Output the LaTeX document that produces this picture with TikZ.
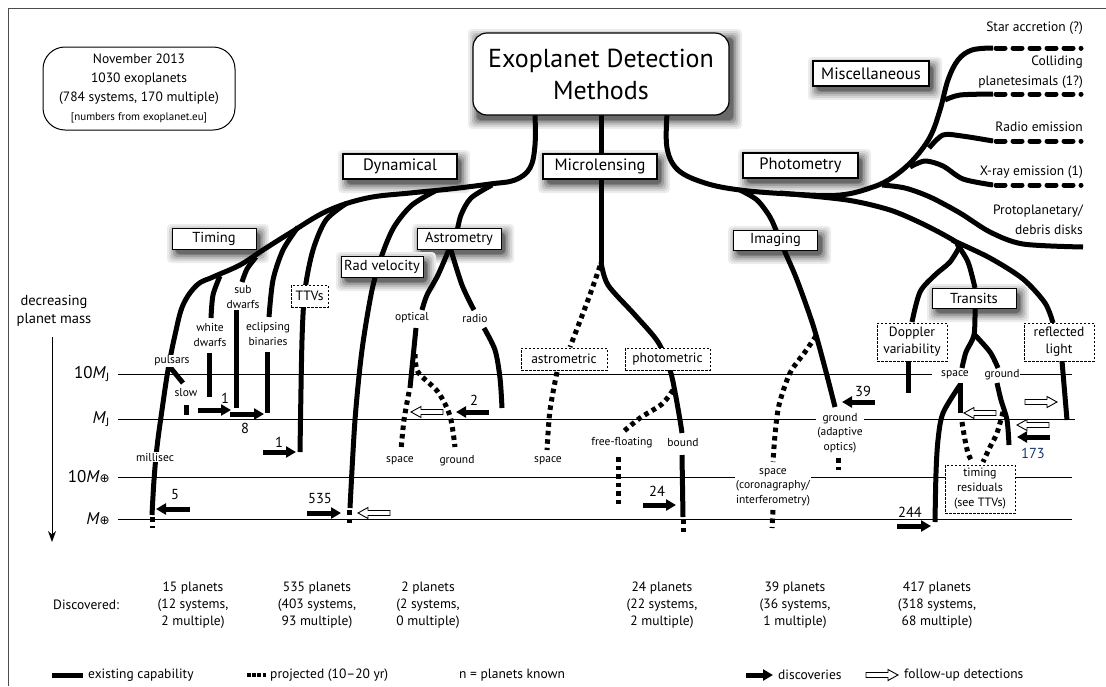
\documentclass[tikz,border=0pt]{standalone}
\usepackage{fontspec}
\setmainfont{PT Sans}
\newfontfamily\dejavu{DejaVu Sans}
\usetikzlibrary{arrows.meta}
\newcommand\myfs[2]{\fontsize{#1}{#2}\selectfont}
\newcommand\earth{{\dejavu\myfs{12}{12}⊕}}
\definecolor{numblue}{RGB}{25,55,110}
\definecolor{shA}{RGB}{236,236,236}
\definecolor{shB}{RGB}{215,215,215}
\definecolor{shC}{RGB}{190,190,190}
\definecolor{shD}{RGB}{160,160,160}
\definecolor{shE}{RGB}{130,130,130}
\definecolor{shF}{RGB}{105,105,105}
\tikzset{
  br/.style={line width=5pt, line join=round},
  pd/.style={line width=5pt, dash pattern=on 4.5pt off 4pt},
  md/.style={line width=5pt, line cap=round, dash pattern=on 9pt off 8pt},
  mline/.style={line width=0.9pt},
  cat/.style={draw, line width=1.4pt, fill=white, inner sep=2pt, minimum height=25pt, font=\myfs{16.5}{18}},
  subbox/.style={draw, line width=1pt, fill=white, inner sep=2pt, minimum height=21pt, minimum width=84pt, font=\myfs{14.5}{16}},
  dbox/.style={draw, dash pattern=on 2.5pt off 1.5pt, line width=0.8pt, fill=white, align=center, inner sep=2pt, font=\myfs{13.5}{17}},
  lab/.style={fill=white, inner sep=1pt, align=center, font=\myfs{11.5}{14.5}},
  num/.style={inner sep=0pt, font=\myfs{14.5}{16}},
  disc/.style={line width=5pt, -{Triangle[length=10pt,width=11pt]}},
  axl/.style={anchor=east, inner sep=0pt, font=\myfs{17}{19}},
  misclab/.style={anchor=east, align=right, inner sep=0pt, font=\myfs{13.5}{20}},
  stat/.style={align=center, inner sep=0pt, font=\myfs{13.5}{17}},
  leg/.style={anchor=west, inner sep=0pt, font=\myfs{13.5}{16}},
  hollow/.pic={\draw[line width=0.9pt, fill=white, line join=miter] (-16,-2.5) -- (6,-2.5) -- (6,-5.5) -- (16,0) -- (6,5.5) -- (6,2.5) -- (-16,2.5) -- cycle;},
  sw/.initial=10, sh/.initial=10,
  shadowpic/.pic={
    \fill[shA, rounded corners=4pt] (-5,-4) rectangle (\pgfkeysvalueof{/tikz/sw}+13,\pgfkeysvalueof{/tikz/sh}+14);
    \fill[shB, rounded corners=4pt] (-3,-2) rectangle (\pgfkeysvalueof{/tikz/sw}+11,\pgfkeysvalueof{/tikz/sh}+12);
    \fill[shC, rounded corners=4pt] (-1,0) rectangle (\pgfkeysvalueof{/tikz/sw}+9,\pgfkeysvalueof{/tikz/sh}+10);
    \fill[shD, rounded corners=4pt] (1,2) rectangle (\pgfkeysvalueof{/tikz/sw}+7,\pgfkeysvalueof{/tikz/sh}+8);
    \fill[shE, rounded corners=4pt] (3,4) rectangle (\pgfkeysvalueof{/tikz/sw}+5,\pgfkeysvalueof{/tikz/sh}+6);
    \fill[shF, rounded corners=4pt] (4,5) rectangle (\pgfkeysvalueof{/tikz/sw}+4,\pgfkeysvalueof{/tikz/sh}+5);
  },
}
\begin{document}
\begin{tikzpicture}[x=1pt,y=-1pt]
\useasboundingbox (0,0) rectangle (1106,686);
% frame
\draw[line width=0.8pt, black!70] (8,686) -- (8,8) -- (1106,8);

% shadows of the boxes (drawn first, under the lines); pic origin = box top-left
\pic[sw=256, sh=82] at (473,33) {shadowpic};
\pic[sw=114, sh=25] at (343,154) {shadowpic};
\pic[sw=114, sh=25] at (543,154) {shadowpic};
\pic[sw=115, sh=25] at (743,153) {shadowpic};
\pic[sw=116, sh=25] at (813,61) {shadowpic};
\pic[sw=84, sh=21] at (172,228) {shadowpic};
\pic[sw=84, sh=21] at (417,228) {shadowpic};
\pic[sw=82, sh=21] at (341,256) {shadowpic};
\pic[sw=85, sh=20] at (733,230) {shadowpic};
\pic[sw=84, sh=20] at (932,288) {shadowpic};

% mass lines
\draw[mline] (118,374) -- (932,374) (1020,374) -- (1072,374);
\draw[mline] (118,419) -- (1075,419);
\draw[mline] (118,477) -- (1072,477);
\draw[mline] (118,519) -- (1072,519);
\node[axl] (l10mj) at (110,374) {10\textit{M}\textsubscript{J}};
\node[axl] (lmj) at (110,419) {\textit{M}\textsubscript{J}};
\node[axl] (l10me) at (110,477) {10\textit{M}\earth};
\node[axl] (lme) at (110,519) {\textit{M}\earth};
\node[align=center, inner sep=0pt, font=\myfs{14.5}{18}] (dec) at (54,311) {decreasing\\planet mass};
\draw[line width=1pt, -{Stealth[length=11pt,width=8pt]}] (52,337) -- (52,542);

% ===== Dynamical tree
\draw[br] plot[smooth, tension=0.6] coordinates {(535,114) (535,145) (530,168) (515,180) (490,184) (450,189) (410,193) (367,198) (327,211) (290,233) (263,250) (240,265) (213,277) (197,285) (183,305) (175,335) (168,370) (162,410) (157,447) (154,480) (152,515)};
\draw[pd] (152,517) -- (152,528);
\draw[br] (170,367) -- (183,383);
\draw[br] (186,405) -- (186,415);
\draw[br] plot[smooth] coordinates {(220,276) (213,295) (211,318)};
\draw[br] (209,353) -- (209,397);
\draw[br] plot[smooth] coordinates {(256,257) (247,269) (242,282)};
\draw[br] (236,310) -- (236,408);
\draw[br] plot[smooth] coordinates {(298,227) (283,250) (273,280) (269,317)};
\draw[br] (267,352) -- (267,413);
\draw[br] plot[smooth] coordinates {(347,203) (326,220) (313,250) (305,290) (302,340) (300,452)};
\draw[br] plot[smooth] coordinates {(437,190) (412,205) (394,227) (382,255) (372,290) (362,350) (355,420) (350,508)};
\draw[pd] (349,510) -- (349,527);
\draw[br] plot[smooth] coordinates {(492,185) (471,198) (461,215) (457,232)};
\draw[br] plot[smooth] coordinates {(450,247) (438,275) (427,295) (422,310)};
\draw[br] plot[smooth] coordinates {(450,247) (462,285) (474,310)};
\draw[br] plot[smooth] coordinates {(416,328) (413,358) (410,388)};
\draw[pd] plot[smooth] coordinates {(409,392) (404,420) (401,450)};
\draw[pd] plot[smooth] coordinates {(415,354) (418,372) (438,392) (450,416) (455,447)};
\draw[br] plot[smooth] coordinates {(484,328) (495,350) (500,378) (502,408)};

% ===== Microlensing tree
\draw[br] (601,114) -- (601,263);
\draw[br] plot[smooth] coordinates {(601,262) (608,285) (635,315) (658,342) (670,370) (675,392) (680,420) (682,433)};
\draw[br] (682,455) -- (683,517);
\draw[pd] (683,519) -- (683,532);
\draw[pd] plot[smooth] coordinates {(600,266) (588,300) (570,347)};
\draw[pd] plot[smooth] coordinates {(557,372) (550,410) (547,450)};
\draw[pd] plot[smooth] coordinates {(673,390) (662,404) (640,418) (623,432)};
\draw[pd] (618,457) -- (618,505);

% ===== Photometry tree
\draw[br] plot[smooth, tension=0.6] coordinates {(667,114) (667,148) (678,170) (705,183) (740,190) (790,194) (840,195) (873,187) (893,177) (913,160) (930,137) (940,110) (948,80) (958,60) (972,50) (993,48)};
\draw[br] plot[smooth] coordinates {(882,185) (905,188) (930,197) (960,213) (990,232) (1023,244) (1083,247)};
\draw[br] plot[smooth] coordinates {(945,100) (960,95) (993,94)};
\draw[br] plot[smooth] coordinates {(929,148) (943,135) (962,136) (993,141)};
\draw[br] plot[smooth] coordinates {(910,167) (925,161) (943,166) (963,179) (993,185)};
\draw[md] (996,48) -- (1081,48);
\draw[md] (996,94) -- (1081,94);
\draw[md] (996,141) -- (1081,141);
\draw[md] (996,185) -- (1081,185);
% transits
\draw[br] plot[smooth] coordinates {(780,193) (847,200) (890,210) (923,224) (953,240) (962,248)};
\draw[br] plot[smooth] coordinates {(957,244) (968,262) (975,288)};
\draw[br] plot[smooth] coordinates {(960,246) (950,262) (935,275) (920,292) (912,322)};
\draw[br] plot[smooth] coordinates {(952,240) (990,258) (1023,279) (1045,303) (1053,323)};
\draw[br] plot[smooth] coordinates {(975,308) (974,335) (966,352) (962,368)};
\draw[br] plot[smooth] coordinates {(974,334) (990,352) (998,368)};
\draw[br] (960,383) -- (960,413);
\draw[pd] plot[smooth] coordinates {(962,422) (965,440) (968,453) (972,462)};
\draw[br] plot[smooth] coordinates {(960,385) (943,413) (938,440) (936,473) (935,522)};
\draw[br] plot[smooth] coordinates {(997,383) (1001,400) (1007,420) (1009,445)};
\draw[pd] plot[smooth] coordinates {(1003,412) (997,433) (990,447) (983,462)};
\draw[br] (908,361) -- (908,393);
\draw[br] (1062,361) -- (1067,420);
% imaging
\draw[br] plot[smooth] coordinates {(740,190) (757,200) (770,217) (778,235) (785,252) (797,280) (813,325) (825,368) (835,407)};
\draw[pd] plot[smooth] coordinates {(816,336) (805,352) (790,373) (779,405) (775,435) (773,462)};
\draw[pd] (773,510) -- (772,528);
\draw[pd] (838,458) -- (838,470);

% ===== boxes
\node[draw, line width=1.2pt, fill=white, rounded corners=14pt, minimum width=256pt, minimum height=82pt, align=center, font=\myfs{26}{32}] (title) at (601,74) {Exoplanet Detection\\Methods};
\node[draw, line width=1pt, rounded corners=22pt, minimum width=192pt, minimum height=83pt, align=center, font=\myfs{13.5}{19}] (info) at (139,88.5) {November 2013\\1030 exoplanets\\(784 systems, 170 multiple)\\{\myfs{11}{19}[numbers from exoplanet.eu]}};
\node[cat, minimum width=114pt] (dyn) at (400,166.5) {Dynamical};
\node[cat, minimum width=114pt] (micro) at (600,166.5) {Microlensing};
\node[cat, minimum width=115pt] (phot) at (800.5,165.5) {Photometry};
\node[cat, minimum width=116pt] (misc) at (871,73.5) {Miscellaneous};
\node[subbox] (timing) at (214,238.5) {Timing};
\node[subbox] (astrom) at (459,238.5) {Astrometry};
\node[subbox, minimum width=82pt] (radvel) at (382,266.5) {Rad velocity};
\node[subbox, minimum height=20pt] (imaging) at (775.5,240) {Imaging};
\node[subbox, minimum height=20pt] (transits) at (974,298) {Transits};

\node[dbox, minimum width=37pt, minimum height=22pt] (ttv) at (309.5,296) {TTVs};
\node[dbox, minimum width=86pt, minimum height=22pt] (astromet) at (564,359) {astrometric};
\node[dbox, minimum width=85pt, minimum height=22pt] (photomet) at (667.5,359) {photometric};
\node[dbox, minimum width=70pt, minimum height=38pt] (doppler) at (912,342) {Doppler\\variability};
\node[dbox, minimum width=70pt, minimum height=38pt] (refl) at (1059,342) {reflected\\light};
\node[dbox, minimum width=70pt, minimum height=48pt, font=\myfs{12}{15}] (tres) at (980,489) {timing\\residuals\\(see TTVs)};

% ===== small labels
\node[lab] (pulsars) at (172,361) {pulsars};
\node[lab] (slow) at (186,393) {slow};
\node[lab] (millisec) at (155,457) {millisec};
\node[lab] (wd) at (210,335) {white\\dwarfs};
\node[lab] (sd) at (243,297) {sub\\dwarfs};
\node[lab] (eb) at (268,334) {eclipsing\\binaries};
\node[lab] (optical) at (412,318) {optical};
\node[lab] (radio) at (475,318) {radio};
\node[lab] (aspace) at (400,461) {space};
\node[lab] (aground) at (457,461) {ground};
\node[lab] (mspace) at (548,461) {space};
\node[lab] (ff) at (622,443) {free-floating};
\node[lab] (bound) at (683,443) {bound};
\node[lab] (iground) at (840,433) {ground\\(adaptive\\optics)};
\node[lab] (ispace) at (773,487) {space\\(coronagraphy/\\interferometry)};
\node[lab] (tspace) at (955,375) {space};
\node[lab] (tground) at (1002,375) {ground};

% ===== misc labels
\node[misclab] (star) at (1083,28) {Star accretion (?)};
\node[misclab] (coll) at (1083,72) {Colliding\\planetesimals (1?)};
\node[misclab] (radioe) at (1083,127) {Radio emission};
\node[misclab] (xray) at (1083,172) {X-ray emission (1)};
\node[misclab] (proto) at (1083,220) {Protoplanetary/\\debris disks};

% ===== arrows and counts
\draw[disc] (198,410) -- (231,410);
\node[num] (n1a) at (225,398) {1};
\draw[disc] (230,414) -- (264,414);
\node[num] (n8) at (245,428) {8};
\draw[disc] (263,452) -- (296,452);
\node[num] (n1b) at (279,442) {1};
\draw[disc] (190,509) -- (156,509);
\node[num] (n5) at (175,495) {5};
\draw[disc] (307,513) -- (341,513);
\node[num] (n535) at (320,499) {535};
\pic[rotate=180] at (374,513) {hollow};
\draw[disc] (489,412) -- (456,412);
\node[num] (n2) at (474,400) {2};
\pic[rotate=180] at (427,412) {hollow};
\draw[disc] (643,505) -- (676,505);
\node[num] (n24) at (657,491) {24};
\draw[disc] (875,402) -- (842,402);
\node[num] (n39) at (863,391) {39};
\draw[disc] (1050,437) -- (1017,437);
\node[num, text=numblue] (n173) at (1033,453) {173};
\pic[rotate=180] at (1033,425) {hollow};
\pic[rotate=180] at (980,413) {hollow};
\pic at (1041,402) {hollow};
\draw[disc] (897,526) -- (931,526);
\node[num] (n244) at (910,512) {244};

% ===== discovered
\node[stat, anchor=west] (discl) at (53,605) {Discovered:};
\node[stat] (s1) at (193,605) {15 planets\\(12 systems,\\2 multiple)};
\node[stat] (s2) at (317,605) {535 planets\\(403 systems,\\93 multiple)};
\node[stat] (s3) at (428,605) {2 planets\\(2 systems,\\0 multiple)};
\node[stat] (s4) at (662,605) {24 planets\\(22 systems,\\2 multiple)};
\node[stat] (s5) at (795,605) {39 planets\\(36 systems,\\1 multiple)};
\node[stat] (s6) at (937,605) {417 planets\\(318 systems,\\68 multiple)};

% ===== legend
\draw[line width=5pt] (52,675) -- (83,675);
\node[leg] (lg1) at (88,675) {existing capability};
\draw[line width=4pt, dash pattern=on 3.5pt off 1.7pt] (247,675) -- (267,675);
\node[leg] (lg2) at (270,675) {projected (10–20 yr)};
\node[leg] (lg3) at (459,675) {n = planets known};
\draw[line width=5pt, -{Triangle[length=10pt,width=11pt]}] (746,675) -- (773,675);
\node[leg] (lg4) at (778,675) {discoveries};
\pic at (882,675) {hollow};
\node[leg] (lg5) at (904,675) {follow-up detections};
\end{tikzpicture}
\end{document}
